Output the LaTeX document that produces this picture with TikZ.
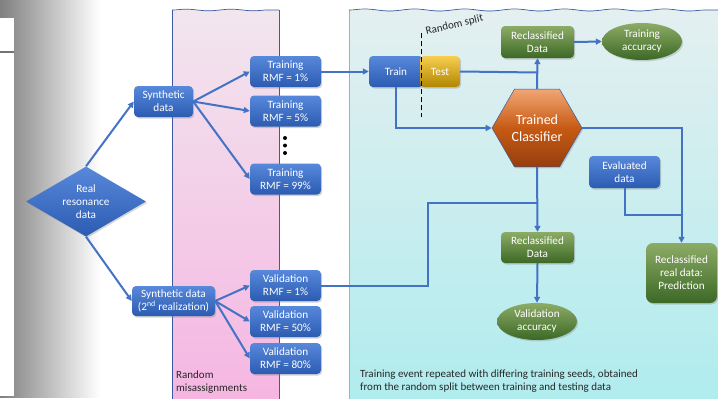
\documentclass[tikz,border=0pt]{standalone}
\usepackage{fontspec}
\setmainfont{Carlito}
\usetikzlibrary{shapes.geometric,arrows.meta,shadows,decorations.pathmorphing}
\definecolor{bTop}{RGB}{88,136,218}
\definecolor{bBot}{RGB}{44,92,178}
\definecolor{gTop}{RGB}{140,172,102}
\definecolor{gBot}{RGB}{60,104,38}
\definecolor{oTop}{RGB}{242,166,116}
\definecolor{oMid}{RGB}{198,90,20}
\definecolor{oBot}{RGB}{150,62,14}
\definecolor{yTop}{RGB}{248,206,80}
\definecolor{yBot}{RGB}{176,134,0}
\definecolor{cBlue}{RGB}{68,114,196}
\definecolor{pinkTop}{RGB}{242,230,238}
\definecolor{pinkBot}{RGB}{245,182,226}
\definecolor{cyTop}{RGB}{228,239,240}
\definecolor{cyBot}{RGB}{176,236,238}
\definecolor{bandEdge}{RGB}{60,90,160}
\tikzset{
  box/.style={rounded corners=4pt, text=white, align=center, inner sep=1pt,
    font=\fontsize{11.2}{13}\selectfont,
    drop shadow={opacity=0.35, shadow xshift=1.2pt, shadow yshift=-1.5pt}},
  bluebox/.style={box, top color=bTop, bottom color=bBot},
  greenbox/.style={box, top color=gTop, bottom color=gBot},
  goldbox/.style={box, top color=yTop, bottom color=yBot},
  rmfbox/.style={bluebox, minimum width=71pt, minimum height=31pt},
  greenell/.style={ellipse, text=white, align=center, inner sep=0pt,
    font=\fontsize{11.2}{13}\selectfont, top color=gTop, bottom color=gBot,
    minimum width=80pt, minimum height=37pt,
    drop shadow={opacity=0.3, shadow xshift=1.2pt, shadow yshift=-1.5pt}},
  conn/.style={draw=cBlue, line width=2pt},
  arr/.style={conn, -{Triangle[length=6pt,width=6pt]}},
  plaintext/.style={text=black!85, align=left, inner sep=0pt,
    font=\fontsize{11}{13}\selectfont},
}
\begin{document}
\begin{tikzpicture}[x=1pt,y=-1pt]
\useasboundingbox (0,0) rectangle (718,399);
% left shade
\shade[left color=black!50, right color=white] (0,0) rectangle (100,397);
\fill[white] (0,18) rectangle (14,396);
\draw[black!55, line width=1.5pt] (0,52) -- (14,52);
% pink band
\shade[top color=pinkTop, bottom color=pinkBot] (172,10) rectangle (279,399);
\draw[bandEdge, line width=0.7pt] (172,399) -- (172,10);
\draw[bandEdge, line width=0.7pt] (279,10) -- (279,399);
\draw[bandEdge, line width=0.7pt, decorate, decoration={snake, amplitude=0.8pt, segment length=45pt}]
  (172,10) -- (279,10);
% cyan band
\shade[top color=cyTop, bottom color=cyBot] (349,10) rectangle (718,399);
\draw[bandEdge!50, line width=0.7pt] (349,399) -- (349,10);
\draw[bandEdge, line width=0.7pt, decorate, decoration={snake, amplitude=1pt, segment length=50pt}]
  (349,10) -- (718,10);

% left nodes
\node[diamond, aspect=1.7, inner sep=0pt, minimum width=120pt, minimum height=70pt,
  top color=bTop, bottom color=bBot, text=white, align=center,
  font=\fontsize{11.2}{13}\selectfont,
  drop shadow={opacity=0.3, shadow xshift=1.2pt, shadow yshift=-1.5pt}]
  (real) at (86,201.5) {Real\\resonance\\data};
\node[bluebox, minimum width=59pt, minimum height=31pt] (syn) at (163.5,101.5) {Synthetic\\data};
\node[bluebox, minimum width=83pt, minimum height=30pt] (syn2) at (173.5,301) {Synthetic data\\(2\textsuperscript{nd} realization)};

\node[rmfbox] (t1) at (285.5,71.5) {Training\\RMF = 1\%};
\node[rmfbox] (t5) at (285.5,111) {Training\\RMF = 5\%};
\node[rmfbox] (t99) at (285.5,179) {Training\\RMF = 99\%};
\fill[black] (285,138) circle (2pt) (285,145.5) circle (2pt) (285,153) circle (2pt);

\node[rmfbox] (v1) at (285.5,285.5) {Validation\\RMF = 1\%};
\node[rmfbox] (v50) at (285.5,321.5) {Validation\\RMF = 50\%};
\node[rmfbox] (v80) at (285.5,358.5) {Validation\\RMF = 80\%};

\node[plaintext, anchor=north west] (rm) at (176,371) {Random\\misassignments};

% right nodes
\node[bluebox, minimum width=54pt, minimum height=31pt] (train) at (396,71.5) {Train};
\node[goldbox, minimum width=40pt, minimum height=31pt] (test) at (440,71.5) {Test};
\draw[black, line width=1pt, dash pattern=on 5pt off 3pt] (421,33) -- (421,117);
\node[text=black!85, font=\fontsize{11}{12}\selectfont, rotate=13.5, inner sep=0pt] (rs) at (454.5,25) {Random split};

\node[greenbox, minimum width=73pt, minimum height=32pt] (rec1) at (537.5,42) {Reclassified\\Data};
\node[greenell] (tacc) at (642,41.5) {Training\\accuracy};

\node[regular polygon, regular polygon sides=6, minimum size=90pt, inner sep=0pt,
  draw=bandEdge, line width=0.5pt, text=white, align=center,
  font=\fontsize{14}{17}\selectfont,
  top color=oTop, bottom color=oBot, middle color=oMid,
  drop shadow={opacity=0.3, shadow xshift=1.2pt, shadow yshift=-1.5pt}]
  (hex) at (537,128) {Trained\\Classifier};

\node[bluebox, minimum width=71pt, minimum height=32pt] (eval) at (624.5,172) {Evaluated\\data};
\node[greenbox, minimum width=73pt, minimum height=31pt] (rec2) at (537.5,247.5) {Reclassified\\Data};
\node[greenell] (vacc) at (537,321.5) {Validation\\accuracy};
\node[greenbox, rounded corners=7pt, minimum width=71pt, minimum height=60pt] (rrd) at (681.5,273) {Reclassified\\real data:\\Prediction};

\node[plaintext, anchor=north west] (bt) at (360,370) {Training event repeated with differing training seeds, obtained\\from the random split between training and testing data};

% junction coordinates
\coordinate (jt) at (537,72.5);
\coordinate (jv) at (428,203);
\coordinate (jv2) at (537,203);
\coordinate (je2) at (681.5,215);

% connectors
\draw[arr] (real.north) -- (syn.west);
\draw[arr] (real.south) -- (syn2.west);
\draw[arr] (syn.east) -- (t1.west);
\draw[arr] (syn.east) -- (t5.west);
\draw[arr] (syn.east) -- (t99.west);
\draw[arr] (syn2.east) -- (v1.west);
\draw[arr] (syn2.east) -- (v50.west);
\draw[arr] (syn2.east) -- (v80.west);
\draw[arr] (t1.east) -- (train.west);
\draw[conn] (test.east) -- (jt);
\draw[arr] (hex.north) -- (rec1.south);
\draw[arr] (rec1.east) -- (tacc.west);
\draw[arr] (train.south) |- (hex.west);
\draw[arr] (hex.east) -| (rrd.north);
\draw[conn] (eval.south) |- (je2);
\draw[arr] (hex.south) -- (rec2.north);
\draw[conn] (v1.east) -| (jv) -- (jv2);
\draw[arr] (rec2.south) -- (vacc.north);
\end{tikzpicture}
\end{document}
